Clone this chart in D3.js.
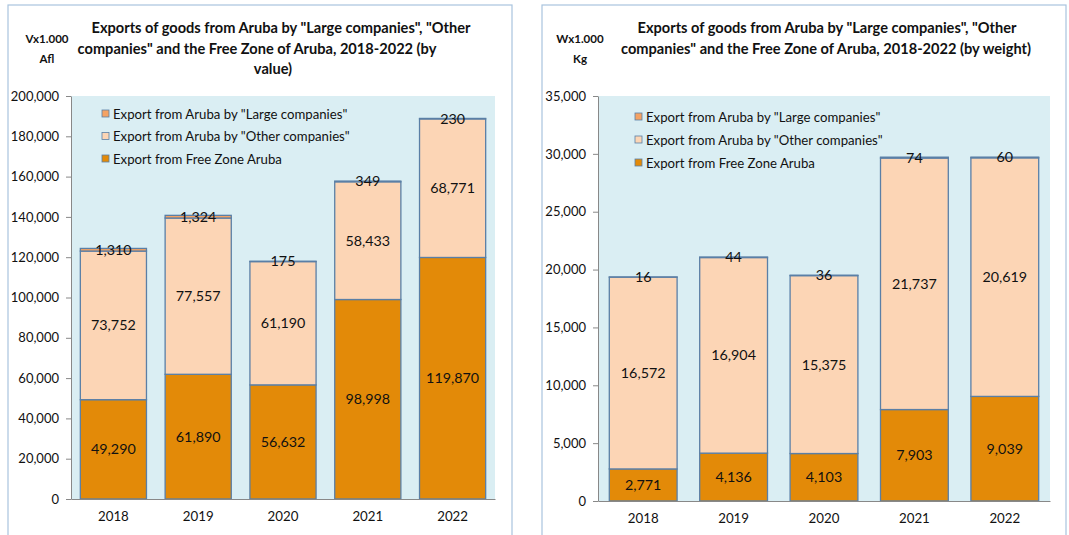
<!DOCTYPE html>
<html>
<head>
<meta charset="utf-8">
<script src="https://cdn.jsdelivr.net/npm/d3@7"></script>
<style>
  body { margin: 0; background: #fff; }
  svg { display: block; font-family: Lato, "Open Sans", sans-serif; }
</style>
</head>
<body>
<svg id="chart" width="1069" height="535"></svg>
<script>
// data
var years = ["2018", "2019", "2020", "2021", "2022"];
var seriesNames = ["Export from Free Zone Aruba", "Export from Aruba by \"Other companies\"", "Export from Aruba by \"Large companies\""];

var valueFreeZone = [49290, 61890, 56632, 98998, 119870];
var valueOther = [73752, 77557, 61190, 58433, 68771];
var valueLarge = [1310, 1324, 175, 349, 230];
var valueTicks = [0, 20000, 40000, 60000, 80000, 100000, 120000, 140000, 160000, 180000, 200000];

var weightFreeZone = [2771, 4136, 4103, 7903, 9039];
var weightOther = [16572, 16904, 15375, 21737, 20619];
var weightLarge = [16, 44, 36, 74, 60];
var weightTicks = [0, 5000, 10000, 15000, 20000, 25000, 30000, 35000];

var colors = ["#E38A08", "#FCD5B5", "#F4A263"];

var svg = d3.select("#chart");
var fmt = d3.format(",");

function drawPanel(opt) {
    // panel frame
    svg.append("rect")
        .attr("x", opt.px).attr("y", 5)
        .attr("width", opt.pw).attr("height", 540)
        .attr("fill", "white")
        .attr("stroke", "#A9C4DE")
        .attr("stroke-width", 1.2);

    var g = svg.append("g");

    var x = d3.scaleBand()
        .domain(years)
        .range([opt.left, opt.right])
        .paddingInner(opt.pad)
        .paddingOuter(opt.pad / 2);

    var y = d3.scaleLinear()
        .domain([0, opt.max])
        .range([opt.bottom, opt.top]);

    // plot background
    g.append("rect")
        .attr("x", opt.left).attr("y", opt.top)
        .attr("width", opt.right - opt.left)
        .attr("height", opt.bottom - opt.top)
        .attr("fill", "#DAEEF3");

    // stack
    var rows = years.map(function (yr, i) {
        return { year: yr, a: opt.free[i], b: opt.other[i], c: opt.large[i] };
    });
    var stack = d3.stack().keys(["a", "b", "c"])(rows);

    stack.forEach(function (layer, li) {
        g.selectAll(null)
            .data(layer)
            .enter()
            .append("rect")
            .attr("x", function (d) { return x(d.data.year) })
            .attr("width", x.bandwidth())
            .attr("y", function (d) { return y(d[1]) })
            .attr("height", function (d) { return Math.max(0, y(d[0]) - y(d[1])) })
            .attr("fill", colors[li])
            .attr("stroke", "#5A7FA6")
            .attr("stroke-width", 1.3);
    });

    // labels
    stack.forEach(function (layer, li) {
        g.selectAll(null)
            .data(layer)
            .enter()
            .append("text")
            .attr("x", function (d) { return x(d.data.year) + x.bandwidth() / 2 })
            .attr("y", function (d) { return (y(d[0]) + y(d[1])) / 2 + 5 })
            .attr("text-anchor", "middle")
            .attr("font-size", 14.3)
            .attr("fill", "#111")
            .text(function (d) { return fmt(d[1] - d[0]) });
    });

    // y axis
    var yAxis = g.append("g")
        .attr("transform", "translate(" + opt.left + ",0)")
        .call(d3.axisLeft(y).tickValues(opt.ticks).tickFormat(fmt).tickSize(5).tickSizeOuter(0).tickPadding(7));
    yAxis.select(".domain").attr("stroke", "#888");
    yAxis.selectAll(".tick line").attr("stroke", "#888");
    yAxis.selectAll("text").attr("font-size", 13).attr("fill", "#111").attr("font-family", "Lato, sans-serif");

    // x axis
    var xAxis = g.append("g")
        .attr("transform", "translate(0," + opt.bottom + ")")
        .call(d3.axisBottom(x).tickSize(0).tickPadding(13));
    xAxis.select(".domain").attr("stroke", "#888");
    xAxis.selectAll("text").attr("font-size", 13.3).attr("fill", "#111").attr("font-family", "Lato, sans-serif");

    // unit label
    g.selectAll(null)
        .data(opt.unit)
        .enter()
        .append("text")
        .attr("x", opt.unitX)
        .attr("y", function (d, i) { return 43 + i * 20 })
        .attr("text-anchor", "middle")
        .attr("font-size", 11.5)
        .attr("font-weight", "bold")
        .attr("fill", "#111")
        .text(function (d) { return d });

    // title
    g.selectAll(null)
        .data(opt.title)
        .enter()
        .append("text")
        .attr("x", function (d, i) { return opt.titleX[i] })
        .attr("y", function (d, i) { return 33 + i * 20.5 })
        .attr("text-anchor", "middle")
        .attr("font-size", 14.6)
        .attr("font-weight", "bold")
        .attr("fill", "#111")
        .text(function (d) { return d });

    // legend (reverse order, large first)
    var legendOrder = [2, 1, 0];
    var lg = g.append("g").attr("transform", "translate(" + opt.legX + "," + opt.legY + ")");
    legendOrder.forEach(function (k, i) {
        lg.append("rect")
            .attr("x", 0).attr("y", i * opt.legStep - 4)
            .attr("width", 7).attr("height", 7)
            .attr("fill", colors[k])
            .attr("stroke", "#5A7FA6")
            .attr("stroke-width", 0.8);
        lg.append("text")
            .attr("x", 11).attr("y", i * opt.legStep + 4.5)
            .attr("font-size", 13.2)
            .attr("fill", "#111")
            .text(seriesNames[k]);
    });
}

drawPanel({
    px: 8, pw: 504,
    left: 71, right: 495, top: 96, bottom: 499,
    pad: 0.22, max: 200000, ticks: valueTicks,
    free: valueFreeZone, other: valueOther, large: valueLarge,
    unit: ["Vx1.000", "Afl"], unitX: 47,
    title: ["Exports of goods from Aruba by \"Large companies\", \"Other", "companies\" and the Free Zone of Aruba, 2018-2022 (by", "value)"],
    titleX: [281, 257, 273],
    legX: 102, legY: 114, legStep: 22.5
});

drawPanel({
    px: 542, pw: 524,
    left: 598, right: 1050, top: 96, bottom: 501,
    pad: 0.25, max: 35000, ticks: weightTicks,
    free: weightFreeZone, other: weightOther, large: weightLarge,
    unit: ["Wx1.000", "Kg"], unitX: 580,
    title: ["Exports of goods from Aruba by \"Large companies\", \"Other", "companies\" and the Free Zone of Aruba, 2018-2022 (by weight)"],
    titleX: [827, 826],
    legX: 635, legY: 117, legStep: 23
});
</script>
</body>
</html>
